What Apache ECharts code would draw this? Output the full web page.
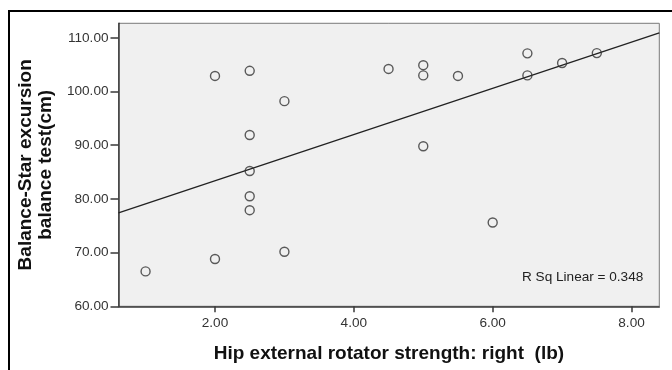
<!DOCTYPE html>
<html>
<head>
<meta charset="utf-8">
<script src="https://cdn.jsdelivr.net/npm/echarts@6/dist/echarts.min.js"></script>
<style>
  html, body { margin: 0; padding: 0; background: #fff; }
  #chart { width: 672px; height: 370px; }
</style>
</head>
<body>
<div id="chart"></div>
<script>
// hip strength (lb) vs star excursion balance (cm)
const strengthRight = [2.0, 2.5, 3.0, 2.5, 2.5, 2.5, 2.5, 3.0, 2.0, 1.0, 4.5, 5.0, 5.0, 5.5, 6.5, 6.5, 7.0, 7.5, 5.0, 6.0];
const balanceScore = [102.9, 103.85, 98.2, 91.9, 85.2, 80.5, 77.9, 70.15, 68.8, 66.5, 104.2, 104.9, 103.0, 102.9, 107.1, 103.0, 105.3, 107.15, 89.8, 75.6];

// fit line end points (as drawn in the reference)
const fitX = [0.61, 8.4];
const fitY = [77.4, 110.9];

const xTicks = [2, 4, 6, 8];
const yTicks = [60, 70, 80, 90, 100, 110];
const rSqLabel = "R Sq Linear = 0.348";

const chart = echarts.init(document.getElementById("chart"), null, { renderer: "canvas" });

const points = strengthRight.map((x, i) => [x, balanceScore[i]]);
const fitLine = fitX.map((x, i) => [x, fitY[i]]);

const font = "'Liberation Sans', Arial, sans-serif";

chart.setOption({
  animation: false,
  backgroundColor: "#fff",
  textStyle: { fontFamily: font },
  grid: {
    left: 118.5,
    top: 23.3,
    right: 12.7,
    bottom: 63.7,
    show: true,
    backgroundColor: "#f0f0f0",
    borderColor: "#7a7a7a",
    borderWidth: 1,
  },
  xAxis: {
    type: "value",
    min: 0.61,
    max: 8.4,
    name: "Hip external rotator strength: right  (lb)",
    nameLocation: "middle",
    nameGap: 38,
    nameTextStyle: { fontFamily: font, fontWeight: "bold", fontSize: 19, color: "#111" },
    axisLine: { show: true, lineStyle: { color: "#3a3a3a", width: 1.5 } },
    axisTick: { show: true, length: 6, customValues: xTicks, lineStyle: { color: "#3a3a3a", width: 1.5 } },
    axisLabel: {
      customValues: xTicks,
      formatter: (v) => v.toFixed(2),
      fontFamily: font,
      fontSize: 13.6,
      color: "#333",
      margin: 10,
    },
    splitLine: { show: false },
  },
  yAxis: {
    type: "value",
    min: 60,
    max: 112.7,
    name: "Balance-Star excursion\nbalance test(cm)",
    nameLocation: "middle",
    nameGap: 57,
    nameRotate: 90,
    nameTextStyle: { fontFamily: font, fontWeight: "bold", fontSize: 19, lineHeight: 20, color: "#111", align: "center" },
    axisLine: { show: true, lineStyle: { color: "#3a3a3a", width: 1.5 } },
    axisTick: { show: true, length: 8, customValues: yTicks, lineStyle: { color: "#3a3a3a", width: 1.5 } },
    axisLabel: {
      customValues: yTicks,
      formatter: (v) => v.toFixed(2),
      fontFamily: font,
      fontSize: 13.6,
      color: "#333",
      margin: 10,
    },
    splitLine: { show: false },
  },
  series: [
    {
      type: "line",
      data: fitLine,
      showSymbol: false,
      symbol: "none",
      lineStyle: { color: "#222", width: 1.3 },
      z: 2,
    },
    {
      type: "scatter",
      data: points,
      symbol: "circle",
      symbolSize: 9,
      itemStyle: { color: "rgba(0,0,0,0)", borderColor: "#333", borderWidth: 1.4 },
      z: 3,
    },
  ],
  graphic: [
    {
      type: "rect",
      shape: { x: 9, y: 11, width: 700, height: 400 },
      style: { fill: "none", stroke: "#000", lineWidth: 2 },
      silent: true,
    },
    {
      type: "text",
      left: 522,
      top: 270,
      style: { text: rSqLabel, fontFamily: font, fontSize: 13.6, fill: "#222" },
      silent: true,
    },
  ],
});
</script>
</body>
</html>
